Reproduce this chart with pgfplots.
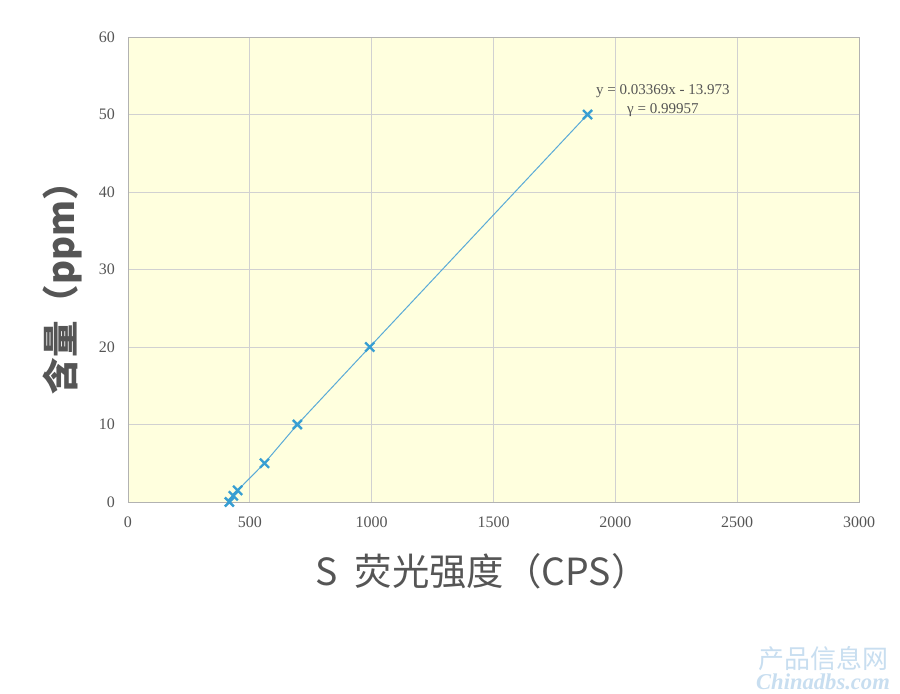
\documentclass[border=0pt]{standalone}
\usepackage{pgfplots}
\pgfplotsset{compat=1.18}
\usepackage{fontspec}
\setmainfont{Liberation Serif}
\newfontfamily\cjk{Noto Sans CJK SC}
\definecolor{bgy}{RGB}{255,255,222}
\definecolor{mk}{RGB}{55,158,210}
\definecolor{ln}{RGB}{90,170,215}
\definecolor{lab}{RGB}{85,85,85}
\definecolor{wm}{RGB}{200,222,240}
\begin{document}
\begin{tikzpicture}[x=0.5pt,y=0.5pt]
\useasboundingbox (0,0) rectangle (900,693);
\begin{axis}[
  at={(128*0.5pt,191*0.5pt)}, anchor=south west,
  width=365.5pt, height=232.5pt, scale only axis,
  xmin=0, xmax=3000, ymin=0, ymax=60,
  xtick={0,500,...,3000}, ytick={0,10,...,60},
  grid=major,
  grid style={draw=black!18, line width=0.4pt},
  axis line style={draw=black!30},
  tick style={draw=none},
  axis background/.style={fill=bgy},
  tick label style={font=\fontsize{8}{9}\selectfont, text=lab},
  /pgf/number format/assume math mode=true,
  /pgf/number format/set thousands separator={},
  xticklabel style={yshift=-4pt},
  yticklabel style={xshift=-3pt},
  clip=false,
]
\addplot[color=ln, line width=0.5pt, mark=x, mark size=3.2pt,
  mark options={draw=mk, line width=1.2pt}]
  coordinates {(416,0) (432,0.8) (450,1.5) (560,5) (695,10) (992,20) (1886,50)};
\node[font=\fontsize{7.5}{9.5}\selectfont, text=lab, align=center] at (axis cs:2195,51.8) {y = 0.03369x - 13.973\\γ = 0.99957};
\end{axis}
\node[font=\cjk\fontsize{18.3}{20}\selectfont\bfseries, text=lab, rotate=90] at (62,414) {含量（ppm）};
\node[font=\cjk\fontsize{18.7}{21}\selectfont, text=lab] at (482,122) {S\ \ 荧光强度（CPS）};
\node[font=\cjk\fontsize{13}{14}\selectfont, text=wm] at (823,34) {产品信息网};
\node[font=\bfseries\itshape\fontsize{11.3}{12}\selectfont, text=wm] at (823,11) {Chinadbs.com};
\end{tikzpicture}
\end{document}
